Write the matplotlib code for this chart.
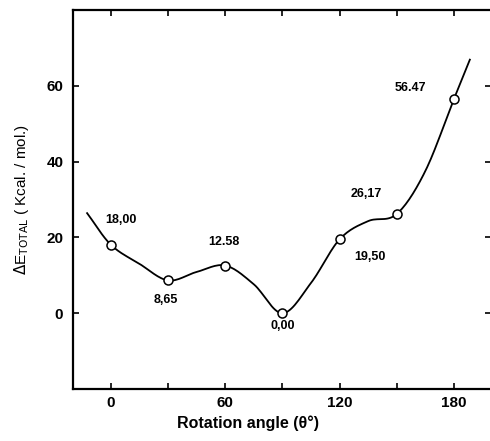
import numpy as np
import matplotlib
matplotlib.use("Agg")
import matplotlib.pyplot as plt

# measured points
angles = [0, 30, 60, 90, 120, 150, 180]
energies = [18.00, 8.65, 12.58, 0.00, 19.50, 26.17, 56.47]
point_labels = ["18,00", "8,65", "12.58", "0,00", "19,50", "26,17", "56.47"]
label_x = [5, 29, 59, 90, 136, 134, 157]
label_y = [24.6, 3.6, 18.7, -3.4, 14.7, 31.4, 59.5]

# hand-drawn curve
curve_x = [-12.6, 0, 15, 30, 45, 60, 75, 90, 105, 120, 135, 150, 165, 180, 188.4]
curve_y = [26.4, 18.0, 13.0, 8.65, 10.9, 12.58, 7.6, 0.0, 8.0, 19.5, 24.3, 26.17, 37.5, 56.47, 66.9]

x_ticks = [0, 30, 60, 90, 120, 150, 180]
x_ticklabels = ["0", "", "60", "", "120", "", "180"]
y_ticks = [0, 20, 40, 60]
y_ticklabels = ["0", "20", "40", "60"]


def catmull_rom(xs, ys, n=16):
    P = np.column_stack([xs, ys]).astype(float)
    P = np.vstack([2 * P[0] - P[1], P, 2 * P[-1] - P[-2]])
    out = []
    t = np.linspace(0, 1, n, endpoint=False)[:, None]
    for i in range(1, len(P) - 2):
        p0, p1, p2, p3 = P[i - 1], P[i], P[i + 1], P[i + 2]
        seg = 0.5 * ((2 * p1) + (-p0 + p2) * t + (2 * p0 - 5 * p1 + 4 * p2 - p3) * t ** 2
                     + (-p0 + 3 * p1 - 3 * p2 + p3) * t ** 3)
        out.append(seg)
    out.append(P[-2][None, :])
    out = np.vstack(out)
    return out[:, 0], out[:, 1]


plt.rcParams['font.family'] = ['Liberation Sans', 'DejaVu Sans']

fig = plt.figure(figsize=(4.9, 4.41), dpi=100)
ax = fig.add_axes([73 / 490, 1 - 389 / 441, (491 - 73) / 490, (389 - 10) / 441])

cx, cy = catmull_rom(curve_x, curve_y)
ax.plot(cx, cy, color="black", lw=1.3, zorder=2)
ax.plot(angles, energies, "o", mfc="white", mec="black", mew=1.1, ms=6.5, zorder=3)

for lx, ly, t in zip(label_x, label_y, point_labels):
    ax.text(lx, ly, t, fontsize=9, ha="center", va="center", fontweight="bold")

ax.set_xlim(-20, 199.5)
ax.set_ylim(-20, 80)
ax.set_xticks(x_ticks)
ax.set_xticklabels(x_ticklabels, fontsize=11, fontweight="bold")
ax.set_yticks(y_ticks)
ax.set_yticklabels(y_ticklabels, fontsize=11, fontweight="bold")
ax.tick_params(direction="in", length=4, width=1.2, top=True, right=True, pad=7)
ax.tick_params(axis="x", pad=5)

for s in ax.spines.values():
    s.set_linewidth(1.6)

ax.set_xlabel("Rotation angle (θ°)", fontsize=11.5, fontweight="bold")
ax.xaxis.set_label_coords(0.418, -0.07)
ax.set_ylabel(r"$\Delta$E$_{\mathrm{TOTAL}}$ ( Kcal. / mol.)", fontsize=11)
ax.yaxis.set_label_coords(-0.10, 0.5)

fig.savefig("out.png", dpi=100)
